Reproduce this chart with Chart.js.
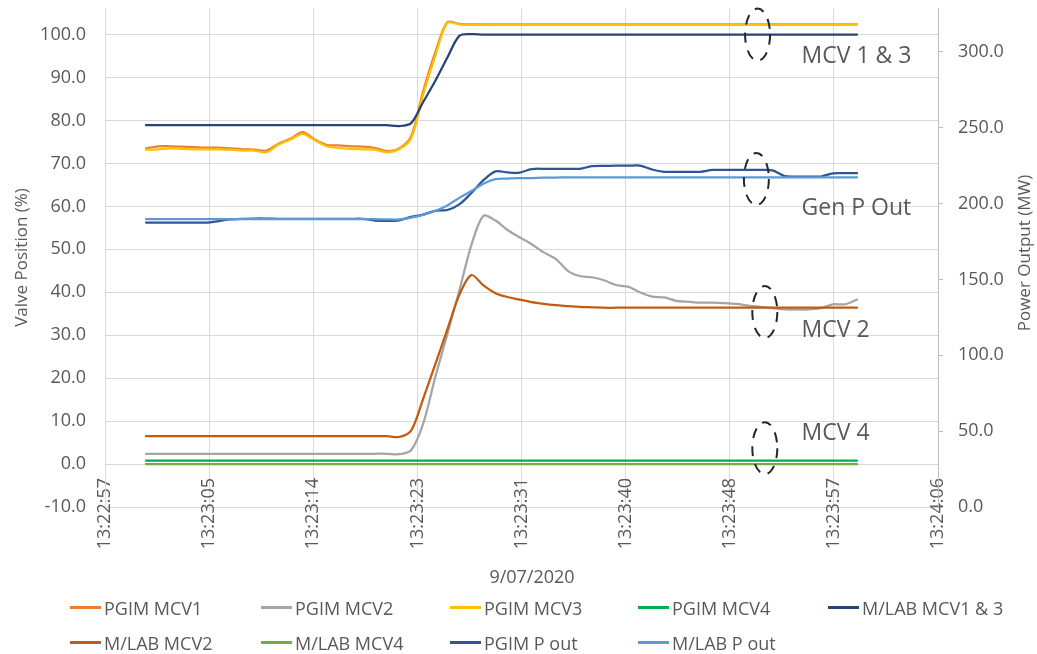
<!DOCTYPE html>
<html>
<head>
<meta charset="utf-8">
<script src="https://cdn.jsdelivr.net/npm/chart.js@4.4.1/dist/chart.umd.min.js"></script>
<style>
html,body{margin:0;padding:0;background:#fff;}
#wrap{position:relative;width:1037px;height:654px;overflow:hidden;font-family:'Open Sans',sans-serif;}
#c{position:absolute;left:0;top:0;}
#legend{position:absolute;left:70px;top:590px;display:grid;grid-template-columns:191px 189px 188px 190px 200px;grid-auto-rows:35px;}
.item{display:flex;align-items:center;font-size:18px;color:#595959;white-space:nowrap;}
.swatch{width:31px;height:3px;margin-right:3px;flex:none;}
</style>
</head>
<body>
<div id="wrap">
<canvas id="c" width="1037" height="654"></canvas>
<div id="legend"></div>
</div>
<script>
// ---- Data ----
// x values: seconds after the first axis tick (13:22:57)
const secondsFromAxisStart = [3.4,4.4,5.4,6.4,7.4,8.4,9.4,10.4,11.4,12.4,13.4,14.4,15.4,16.4,17.4,18.4,19.4,20.4,21.4,22.4,23.4,24.4,25.4,26.4,27.4,28.4,29.4,30.4,31.4,32.4,33.4,34.4,35.4,36.4,37.4,38.4,39.4,40.4,41.4,42.4,43.4,44.4,45.4,46.4,47.4,48.4,49.4,50.4,51.4,52.4,53.4,54.4,55.4,56.4,57.4,58.4,59.4,60.4,61.4,62.4];

const xTickLabels = ['13:22:57','13:23:05','13:23:14','13:23:23','13:23:31','13:23:40','13:23:48','13:23:57','13:24:06'];

const pgimMcv1 = [73.5,74.0,74.0,73.9,73.8,73.7,73.7,73.5,73.3,73.2,73.0,74.6,75.8,77.3,75.6,74.3,74.2,74.0,73.9,73.6,72.9,73.5,76.3,86.8,95.8,102.9,102.5,102.4,102.4,102.4,102.4,102.4,102.4,102.4,102.4,102.4,102.4,102.4,102.4,102.4,102.4,102.4,102.4,102.4,102.4,102.4,102.4,102.4,102.4,102.4,102.4,102.4,102.4,102.4,102.4,102.4,102.4,102.4,102.4,102.4];
const pgimMcv2 = [2.4,2.4,2.4,2.4,2.4,2.4,2.4,2.4,2.4,2.4,2.4,2.4,2.4,2.4,2.4,2.4,2.4,2.4,2.4,2.4,2.4,2.3,3.2,9.4,20.2,30.2,40.4,51.0,57.8,56.7,54.5,52.8,51.2,49.3,47.8,45.0,43.8,43.5,42.8,41.7,41.3,40.0,39.0,38.8,38.0,37.8,37.6,37.6,37.5,37.3,36.9,36.6,36.3,36.0,36.0,36.0,36.3,37.2,37.2,38.3];
const pgimMcv3 = [73.2,73.3,73.5,73.4,73.3,73.3,73.3,73.2,73.0,73.0,72.6,74.4,75.6,76.9,75.4,74.0,73.6,73.4,73.3,73.2,72.6,73.3,75.8,86.0,95.0,102.7,102.4,102.3,102.3,102.3,102.3,102.3,102.3,102.3,102.3,102.3,102.3,102.3,102.3,102.3,102.3,102.3,102.3,102.3,102.3,102.3,102.3,102.3,102.3,102.3,102.3,102.3,102.3,102.3,102.3,102.3,102.3,102.3,102.3,102.3];
const pgimMcv4 = [0.8,0.8,0.8,0.8,0.8,0.8,0.8,0.8,0.8,0.8,0.8,0.8,0.8,0.8,0.8,0.8,0.8,0.8,0.8,0.8,0.8,0.8,0.8,0.8,0.8,0.8,0.8,0.8,0.8,0.8,0.8,0.8,0.8,0.8,0.8,0.8,0.8,0.8,0.8,0.8,0.8,0.8,0.8,0.8,0.8,0.8,0.8,0.8,0.8,0.8,0.8,0.8,0.8,0.8,0.8,0.8,0.8,0.8,0.8,0.8];
const mlabMcv13 = [78.9,78.9,78.9,78.9,78.9,78.9,78.9,78.9,78.9,78.9,78.9,78.9,78.9,78.9,78.9,78.9,78.9,78.9,78.9,78.9,78.9,78.7,79.4,84.3,89.2,94.6,99.7,100.1,100.0,100.0,100.0,100.0,100.0,100.0,100.0,100.0,100.0,100.0,100.0,100.0,100.0,100.0,100.0,100.0,100.0,100.0,100.0,100.0,100.0,100.0,100.0,100.0,100.0,100.0,100.0,100.0,100.0,100.0,100.0,100.0];
const mlabMcv2 = [6.5,6.5,6.5,6.5,6.5,6.5,6.5,6.5,6.5,6.5,6.5,6.5,6.5,6.5,6.5,6.5,6.5,6.5,6.5,6.5,6.5,6.3,7.8,15.2,23.2,31.3,39.4,44.0,41.6,39.8,38.9,38.3,37.7,37.3,37.0,36.8,36.6,36.5,36.4,36.4,36.4,36.4,36.4,36.4,36.4,36.4,36.4,36.4,36.4,36.4,36.4,36.4,36.4,36.4,36.4,36.4,36.4,36.4,36.4,36.4];
const mlabMcv4 = [0.0,0.0,0.0,0.0,0.0,0.0,0.0,0.0,0.0,0.0,0.0,0.0,0.0,0.0,0.0,0.0,0.0,0.0,0.0,0.0,0.0,0.0,0.0,0.0,0.0,0.0,0.0,0.0,0.0,0.0,0.0,0.0,0.0,0.0,0.0,0.0,0.0,0.0,0.0,0.0,0.0,0.0,0.0,0.0,0.0,0.0,0.0,0.0,0.0,0.0,0.0,0.0,0.0,0.0,0.0,0.0,0.0,0.0,0.0,0.0];
const pgimPout = [187.5,187.5,187.5,187.5,187.5,187.5,188.5,189.6,190.0,190.2,190.2,190.0,190.0,190.0,190.0,190.0,190.0,190.0,190.0,188.8,188.6,189.0,191.3,192.8,195.3,195.8,199.5,207.0,215.5,221.3,220.6,220.5,222.8,223.0,223.0,223.0,223.0,224.7,224.9,225.0,225.0,225.1,222.5,221.0,221.0,221.0,221.0,222.2,222.3,222.3,222.3,222.3,222.0,218.2,217.9,217.9,217.9,220.0,220.1,220.1];
const mlabPout = [189.8,189.8,189.8,189.8,189.8,189.8,189.8,189.8,189.8,189.8,189.8,189.8,189.8,189.8,189.8,189.8,189.8,189.8,189.8,189.8,189.6,189.6,190.8,192.6,195.2,198.8,203.8,208.3,213.2,216.2,216.5,216.8,216.9,217.1,217.2,217.3,217.4,217.4,217.4,217.4,217.4,217.4,217.4,217.4,217.4,217.4,217.4,217.4,217.4,217.4,217.4,217.4,217.4,217.4,217.4,217.4,217.4,217.4,217.4,217.4];

const seriesNames = ['PGIM MCV1','PGIM MCV2','PGIM MCV3','PGIM MCV4','M/LAB MCV1 & 3','M/LAB MCV2','M/LAB MCV4','PGIM P out','M/LAB P out'];
const seriesValues = [pgimMcv1,pgimMcv2,pgimMcv3,pgimMcv4,mlabMcv13,mlabMcv2,mlabMcv4,pgimPout,mlabPout];
const seriesAxis = ['y','y','y','y','y','y','y','y1','y1'];
const seriesColors = ['#ED7D31','#A5A5A5','#FFC000','#00B050','#264478','#C55A11','#70AD47','#2F5597','#5B9BD5'];

const leftTitle = 'Valve Position (%)';
const rightTitle = 'Power Output (MW)';
const xTitle = '9/07/2020';

// callouts: dashed ellipse anchored on a time / valve-position value, label to the right
const callouts = [
  {text:'MCV 1 & 3', t:54.15, v:100.0, labelT:57.8, labelV:93.5},
  {text:'Gen P Out', t:54.05, v:66.4,  labelT:57.8, labelV:58.0},
  {text:'MCV 2',     t:54.75, v:35.4,  labelT:57.8, labelV:29.6},
  {text:'MCV 4',     t:54.75, v:3.7,   labelT:57.8, labelV:5.5}
];

// ---- Chart ----
const FONT = "'Open Sans', sans-serif";
Chart.defaults.font.family = FONT;
Chart.defaults.color = '#595959';

const decorPlugin = {
  id:'decor',
  afterDatasetsDraw(chart){
    const {ctx, scales:{x, y}} = chart;
    ctx.save();
    ctx.strokeStyle = '#262626';
    ctx.lineWidth = 2;
    ctx.setLineDash([10,8]);
    callouts.forEach(c => {
      ctx.beginPath();
      ctx.ellipse(x.getPixelForValue(c.t), y.getPixelForValue(c.v), 12.5, 26, 0, 0, Math.PI*2);
      ctx.stroke();
    });
    ctx.setLineDash([]);
    ctx.fillStyle = '#595959';
    ctx.font = '23px ' + FONT;
    ctx.textAlign = 'left';
    ctx.textBaseline = 'alphabetic';
    callouts.forEach(c => {
      ctx.fillText(c.text, x.getPixelForValue(c.labelT), y.getPixelForValue(c.labelV));
    });
    ctx.restore();
  },
  afterDraw(chart){
    const {ctx, chartArea} = chart;
    ctx.save();
    ctx.fillStyle = '#595959';
    ctx.font = '17px ' + FONT;
    ctx.textAlign = 'center';
    ctx.textBaseline = 'alphabetic';
    ctx.translate(27, (chartArea.top + chartArea.bottom)/2);
    ctx.rotate(-Math.PI/2);
    ctx.fillText(leftTitle, 0, 0);
    ctx.restore();
    ctx.save();
    ctx.fillStyle = '#595959';
    ctx.font = '17px ' + FONT;
    ctx.textAlign = 'center';
    ctx.textBaseline = 'alphabetic';
    ctx.translate(1030, 253);
    ctx.rotate(-Math.PI/2);
    ctx.fillText(rightTitle, 0, 0);
    ctx.restore();
    ctx.save();
    ctx.fillStyle = '#595959';
    ctx.font = '18px ' + FONT;
    ctx.textAlign = 'center';
    ctx.textBaseline = 'middle';
    ctx.fillText(xTitle, 532, 578);
    ctx.restore();
  }
};

const datasets = seriesNames.map((name, i) => ({
  label: name,
  data: secondsFromAxisStart.map((t, k) => ({x: t, y: seriesValues[i][k]})),
  yAxisID: seriesAxis[i],
  borderColor: seriesColors[i],
  backgroundColor: seriesColors[i],
  borderWidth: 2.25,
  pointRadius: 0,
  tension: 0.3,
  fill: false,
  borderCapStyle: 'round',
  borderJoinStyle: 'round',
  order: seriesNames.length - i
}));

const chart = new Chart(document.getElementById('c'), {
  type: 'line',
  data: {datasets},
  options: {
    responsive: false,
    animation: false,
    devicePixelRatio: 1,
    layout: {padding: {top: 8, left: 0, right: 0, bottom: 147}},
    plugins: {legend: {display: false}, tooltip: {enabled: false}},
    scales: {
      x: {
        type: 'linear', position: {y: -10}, min: 0, max: 69.12,
        afterFit(s){ s.paddingLeft = 0; s.paddingRight = 0; s.paddingTop = 0; s.paddingBottom = 0; },
        grid: {color: '#D9D9D9', drawTicks: false, lineWidth: 1},
        border: {display: false},
        ticks: {stepSize: 8.64, includeBounds: false, autoSkip: false, maxRotation: 90, minRotation: 90,
          padding: -29, color: '#595959', font: {size: 18},
          callback: (v, i) => xTickLabels[i]}
      },
      y: {
        position: 'left', min: -10, max: 106.2,
        afterFit(s){ s.width = 105; s.paddingTop = 0; s.paddingBottom = 0; },
        grid: {color: '#D9D9D9', drawTicks: false},
        border: {display: true, color: '#D9D9D9'},
        ticks: {stepSize: 10, includeBounds: false, padding: 19, color: '#595959', font: {size: 18},
          callback: v => v.toFixed(1)}
      },
      y1: {
        position: 'right', min: 0, max: 329,
        afterFit(s){ s.width = 99; s.paddingTop = 0; s.paddingBottom = 0; },
        grid: {drawOnChartArea: false, drawTicks: true, tickLength: 5, color: '#BFBFBF'},
        border: {display: true, color: '#BFBFBF'},
        ticks: {stepSize: 50, includeBounds: false, padding: 15, color: '#595959', font: {size: 18},
          callback: v => v.toFixed(1)}
      }
    }
  },
  plugins: [decorPlugin]
});

// HTML legend built from the same series definitions
const legendEl = document.getElementById('legend');
seriesNames.forEach((name, i) => {
  const item = document.createElement('div');
  item.className = 'item';
  const sw = document.createElement('span');
  sw.className = 'swatch';
  sw.style.background = seriesColors[i];
  const tx = document.createElement('span');
  tx.textContent = name;
  item.appendChild(sw); item.appendChild(tx);
  legendEl.appendChild(item);
});
</script>
</body>
</html>
